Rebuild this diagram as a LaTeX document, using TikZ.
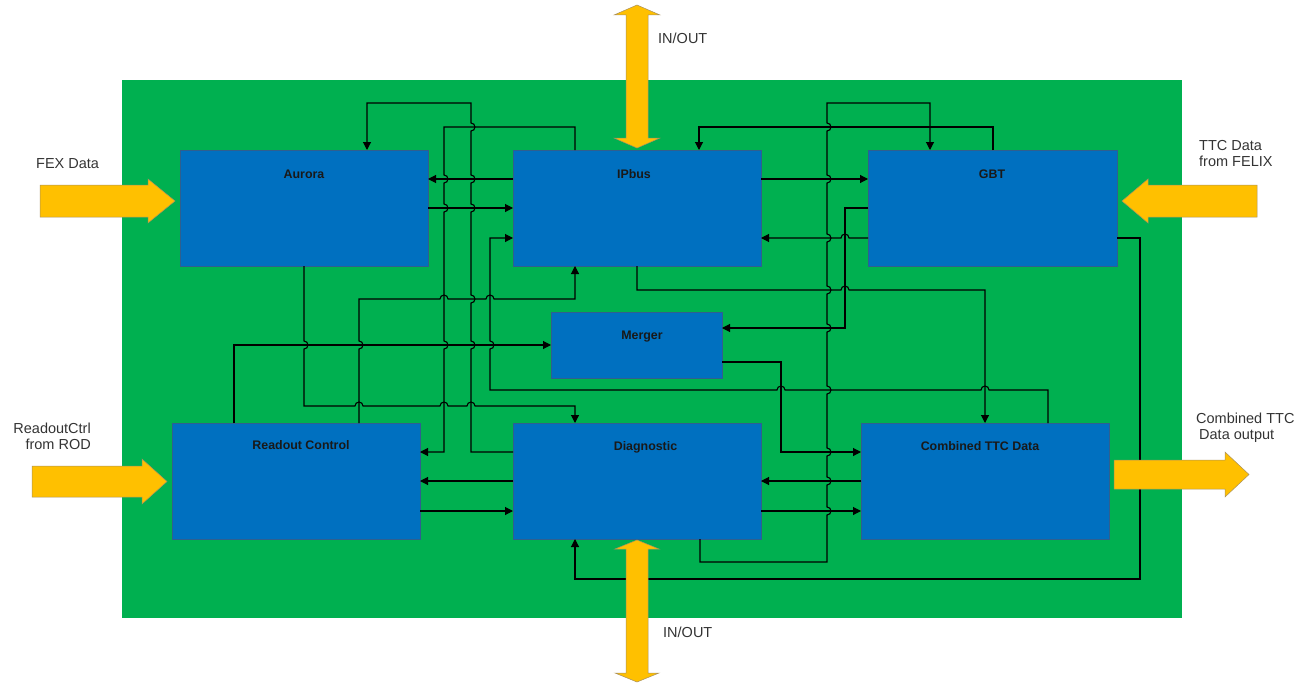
\documentclass[tikz,border=0pt]{standalone}
\usepackage{fontspec}
\setmainfont{Liberation Sans}
\usetikzlibrary{arrows.meta}
\definecolor{bggreen}{HTML}{00B050}
\definecolor{boxblue}{HTML}{0070C0}
\definecolor{boxedge}{HTML}{2F5F8F}
\definecolor{yell}{HTML}{FFC000}
\definecolor{yedge}{HTML}{A89060}
\tikzset{
  blk/.style={draw=boxedge, fill=boxblue, line width=0.6pt, inner sep=0, outer sep=0,
              minimum width=248pt, minimum height=116pt},
  wire/.style={line width=1.1pt, draw=black},
  arr/.style={wire, -{Triangle[length=8pt,width=8pt]}},
  outer/.style={font=\fontsize{14.5}{16}\selectfont, text=black!80, inner sep=0},
  boxlbl/.style={font=\fontsize{12.4}{14}\selectfont\bfseries, text=black!90, inner sep=0},
  yarrow/.style={fill=yell, draw=yedge, line width=0.5pt},
  hopup/.style 2 args={insert path={-- (#1,#2+4) arc[start angle=-90,end angle=90,radius=4pt]}},
  hopdn/.style 2 args={insert path={-- (#1,#2-4) arc[start angle=90,end angle=-90,radius=4pt]}},
  hopri/.style 2 args={insert path={-- (#1-4,#2) arc[start angle=180,end angle=0,radius=4pt]}},
  hople/.style 2 args={insert path={-- (#1+4,#2) arc[start angle=0,end angle=180,radius=4pt]}},
}
\begin{document}
\begin{tikzpicture}[x=1pt,y=-1pt]
\useasboundingbox (0,0) rectangle (1310,685);
\fill[bggreen] (122,80) rectangle (1182,618);

% blocks
\node[blk] (aur) at (304,208) {};
\node[blk] (ipb) at (637,208) {};
\node[blk, minimum width=249pt] (gbt) at (992.5,208) {};
\node[blk, minimum width=171pt, minimum height=66pt] (mer) at (636.5,345) {};
\node[blk] (roc) at (296,481) {};
\node[blk] (dia) at (637,481) {};
\node[blk] (ctt) at (985,481) {};

\node[boxlbl, anchor=base] (aurL) at (304,178) {Aurora};
\node[boxlbl, anchor=base] (ipbL) at (634,178) {IPbus};
\node[boxlbl, anchor=base] (gbtL) at (992,178) {GBT};
\node[boxlbl, anchor=base] (merL) at (642,339) {Merger};
\node[boxlbl, anchor=base] (rocL) at (301,449.5) {Readout Control};
\node[boxlbl, anchor=base] (diaL) at (645.5,450) {Diagnostic};
\node[boxlbl, anchor=base] (cttL) at (980,450) {Combined TTC Data};

% wires
% Diagnostic -> Aurora
\draw[arr] (dia.west |- 0,452) -- (471,452) [hopup={471}{345}] [hopup={471}{299}]
  [hopup={471}{208}] [hopup={471}{179}] [hopup={471}{127}] -- (471,103) -- (367,103) -- (367,0 |- aur.north);
% IPbus -> Readout Control
\draw[arr] (575,0 |- ipb.north) -- (575,127) -- (444,127) [hopdn={444}{179}] [hopdn={444}{208}]
  [hopdn={444}{345}] -- (444,452) -- (roc.east |- 0,452);
% IPbus <-> Aurora
\draw[arr] (ipb.west |- 0,179) -- (aur.east |- 0,179);
\draw[arr] (aur.east |- 0,208) -- (ipb.west |- 0,208);
% Combined TTC -> IPbus
\draw[arr] (1048,0 |- ctt.north) -- (1048,390) [hople={985}{390}] [hople={781}{390}] -- (490,390)
  [hopup={490}{345}] -- (490,238) -- (ipb.west |- 0,238);
% Readout Control -> Merger
\draw[arr] (234,0 |- roc.north) -- (234,345) -- (mer.west |- 0,345);
% Readout Control -> IPbus
\draw[arr] (359,0 |- roc.north) [hopup={359}{345}] -- (359,299) [hopri={444}{299}] [hopri={490}{299}]
  -- (575,299) -- (575,0 |- ipb.south);
% Aurora -> Diagnostic
\draw[arr] (304,0 |- aur.south) [hopdn={304}{345}] -- (304,406) [hopri={359}{406}] [hopri={444}{406}]
  [hopri={471}{406}] -- (575,406) -- (575,0 |- dia.north);
% GBT -> IPbus (top)
\draw[arr] (993,0 |- gbt.north) -- (993,127) -- (699,127) -- (699,0 |- ipb.north);
% Diagnostic -> GBT
\draw[arr] (700,0 |- dia.south) -- (700,562) -- (827,562) [hopup={827}{511}] [hopup={827}{481}]
  [hopup={827}{452}] [hopup={827}{390}] [hopup={827}{328}] [hopup={827}{290}] [hopup={827}{238}]
  [hopup={827}{179}] [hopup={827}{127}] -- (827,103) -- (930,103) -- (930,0 |- gbt.north);
% IPbus -> GBT
\draw[arr] (ipb.east |- 0,179) -- (gbt.west |- 0,179);
% GBT -> Merger
\draw[arr] (gbt.west |- 0,208) -- (845,208) -- (845,328) -- (mer.east |- 0,328);
% GBT -> IPbus
\draw[arr] (gbt.west |- 0,238) [hople={845}{238}] -- (ipb.east |- 0,238);
% GBT -> Diagnostic (bottom)
\draw[arr] (gbt.east |- 0,238) -- (1140,238) -- (1140,579) -- (575,579) -- (575,0 |- dia.south);
% IPbus -> Combined TTC
\draw[arr] (637,0 |- ipb.south) -- (637,290) [hopri={845}{290}] -- (985,290) -- (985,0 |- ctt.north);
% Merger -> Combined TTC
\draw[arr] (mer.east |- 0,362) -- (781,362) -- (781,452) -- (ctt.west |- 0,452);
% Diagnostic <-> Combined TTC
\draw[arr] (ctt.west |- 0,481) -- (dia.east |- 0,481);
\draw[arr] (dia.east |- 0,511) -- (ctt.west |- 0,511);
% Diagnostic <-> Readout Control
\draw[arr] (dia.west |- 0,481) -- (roc.east |- 0,481);
\draw[arr] (roc.east |- 0,511) -- (dia.west |- 0,511);

% big yellow arrows
\path[yarrow] (40,185) -- (148,185) -- (148,179) -- (175,201) -- (148,223) -- (148,217) -- (40,217) -- cycle;
\path[yarrow] (32,466) -- (142,466) -- (142,459) -- (167,481.5) -- (142,504) -- (142,497) -- (32,497) -- cycle;
\path[yarrow] (1257,185) -- (1148,185) -- (1148,179) -- (1122,201) -- (1148,223) -- (1148,217) -- (1257,217) -- cycle;
\path[yarrow] (1114,460) -- (1225,460) -- (1225,452) -- (1249,474.5) -- (1225,497) -- (1225,489) -- (1114,489) -- cycle;
\path[yarrow] (637,5) -- (660,15) -- (648,15) -- (648,138) -- (660,138) -- (637,148) -- (614,138) -- (626,138)
  -- (626,15) -- (614,15) -- cycle;
\path[yarrow] (637,540) -- (659,549) -- (648,549) -- (648,673) -- (659,673) -- (637,682) -- (615,673) -- (626,673)
  -- (626,549) -- (615,549) -- cycle;

% outer labels
\node[outer, anchor=base west] (fexL) at (36,168) {FEX Data};
\node[outer, anchor=north east, align=right] (rodL) at (91,423) {ReadoutCtrl\\from ROD};
\node[outer, anchor=north west, align=left] (felL) at (1199,140) {TTC Data\\from FELIX};
\node[outer, anchor=north west, align=left] (outL) at (1196,413) {Combined TTC\\\hspace*{3pt}Data output};
\node[outer, anchor=base west] (io1L) at (658,44) {IN/OUT};
\node[outer, anchor=base west] (io2L) at (663,637) {IN/OUT};
\end{tikzpicture}
\end{document}
